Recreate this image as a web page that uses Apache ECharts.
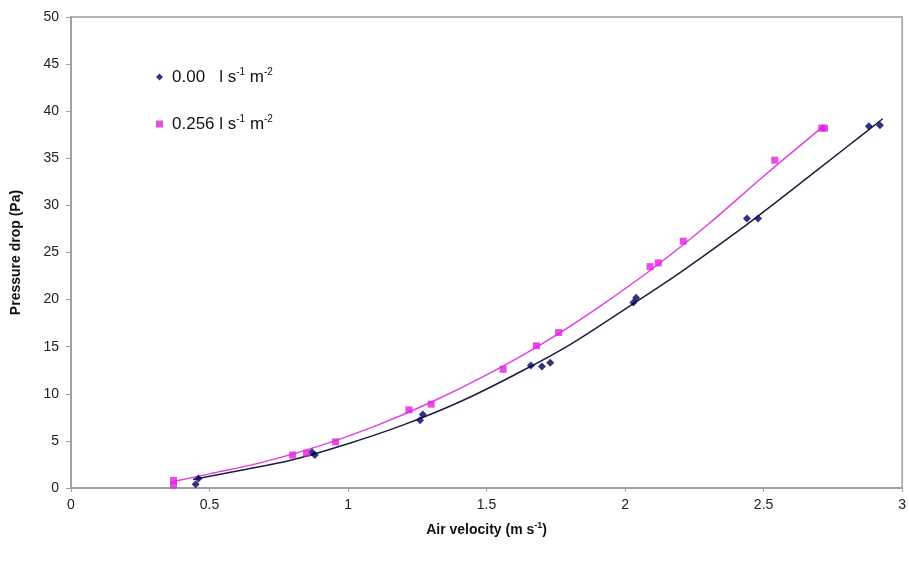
<!DOCTYPE html>
<html>
<head>
<meta charset="utf-8">
<script src="https://cdn.jsdelivr.net/npm/echarts@6/dist/echarts.min.js"></script>
<style>
  html, body { margin: 0; padding: 0; background: #fff; }
  #chart { width: 909px; height: 562px; }
</style>
</head>
<body>
<div id="chart"></div>
<script>
// measured points, 0.00 l s-1 m-2
var pts0 = [
    [0.45, 0.4], [0.46, 1.0], [0.87, 3.8], [0.88, 3.5],
    [1.26, 7.2], [1.27, 7.8], [1.66, 13.0], [1.70, 12.9], [1.73, 13.3],
    [2.03, 19.7], [2.04, 20.2], [2.44, 28.6], [2.48, 28.6],
    [2.88, 38.4], [2.92, 38.5]
];
// measured points, 0.256 l s-1 m-2
var pts256 = [
    [0.37, 0.8], [0.37, 0.3], [0.80, 3.5], [0.85, 3.7], [0.955, 4.9],
    [1.22, 8.3], [1.30, 8.9], [1.56, 12.6], [1.68, 15.1], [1.76, 16.5],
    [2.09, 23.5], [2.12, 23.9], [2.21, 26.2], [2.54, 34.8],
    [2.71, 38.2], [2.72, 38.2]
];
// trend lines
var trend0 = [
    [0.44, 0.9], [0.6, 1.8], [0.8, 3.0], [1.0, 4.7], [1.2, 6.7], [1.4, 9.1],
    [1.6, 12.0], [1.8, 15.2], [2.0, 19.0], [2.2, 22.9], [2.4, 27.1],
    [2.6, 31.6], [2.8, 36.2], [2.93, 39.2]
];
var trend256 = [
    [0.37, 0.7], [0.5, 1.5], [0.7, 2.8], [0.9, 4.5], [1.1, 6.6], [1.3, 9.1],
    [1.5, 12.0], [1.7, 15.3], [1.9, 19.1], [2.1, 23.3], [2.3, 28.0],
    [2.5, 33.1], [2.72, 38.5]
];
var xTicks = [0, 0.5, 1, 1.5, 2, 2.5, 3];

var chart = echarts.init(document.getElementById('chart'));

var supStyle = { fontSize: 10, verticalAlign: 'top', lineHeight: 20, color: '#111', fontFamily: 'Liberation Sans' };
var legendText = {
    s0: '0.00   l s{sup|-1} m{sup|-2}',
    s256: '0.256 l s{sup|-1} m{sup|-2}'
};

var option = {
    backgroundColor: '#fff',
    animation: false,
    grid: {
        left: 71, right: 6, top: 17, bottom: 74,
        show: true, borderColor: '#b4b4b4', borderWidth: 2
    },
    legend: {
        orient: 'vertical',
        left: 151, top: 62,
        itemGap: 27,
        itemWidth: 7, itemHeight: 7,
        data: [
            { name: 's0', icon: 'diamond', itemStyle: { color: '#000060' } },
            { name: 's256', icon: 'rect', itemStyle: { color: '#e020e0' } }
        ],
        formatter: function (n) { return legendText[n]; },
        textStyle: {
            fontSize: 17, color: '#111', fontFamily: 'Liberation Sans',
            lineHeight: 20, padding: [0, 0, 0, 4],
            rich: { sup: supStyle }
        }
    },
    xAxis: {
        type: 'value', min: 0, max: 3, interval: 0.5,
        name: 'Air velocity (m s{sup|-1})',
        nameLocation: 'middle', nameGap: 33,
        nameTextStyle: {
            fontSize: 14, fontWeight: 'bold', color: '#111', fontFamily: 'Liberation Sans',
            lineHeight: 18,
            rich: { sup: { fontSize: 9, verticalAlign: 'top', lineHeight: 18, fontWeight: 'bold', color: '#111' } }
        },
        axisLine: { lineStyle: { color: '#a0a0a0', width: 2 } },
        axisTick: { show: true, length: 4, lineStyle: { color: '#a0a0a0' } },
        axisLabel: {
            fontSize: 14, color: '#222', fontFamily: 'Liberation Sans', margin: 10,
            formatter: function (v) { return xTicks.indexOf(v) >= 0 ? String(v) : ''; }
        },
        splitLine: { show: false }
    },
    yAxis: {
        type: 'value', min: 0, max: 50, interval: 5,
        name: 'Pressure drop (Pa)',
        nameLocation: 'middle', nameGap: 48, nameRotate: 90,
        nameTextStyle: { fontSize: 14, fontWeight: 'bold', color: '#111', fontFamily: 'Liberation Sans' },
        axisLine: { show: true, lineStyle: { color: '#a0a0a0', width: 2 } },
        axisTick: { show: true, length: 5, lineStyle: { color: '#a0a0a0' } },
        axisLabel: { fontSize: 14, color: '#222', fontFamily: 'Liberation Sans', margin: 12 },
        splitLine: { show: false }
    },
    series: [
        {
            name: 't0', type: 'line', data: trend0, smooth: 0.4, showSymbol: false,
            lineStyle: { color: '#1c1c3c', width: 1.5 }, z: 1, silent: true
        },
        {
            name: 't256', type: 'line', data: trend256, smooth: 0.4, showSymbol: false,
            lineStyle: { color: '#e040e0', width: 1.5 }, z: 1, silent: true
        },
        {
            name: 's0', type: 'scatter', data: pts0, symbol: 'diamond', symbolSize: 8,
            itemStyle: { color: '#000060' }, z: 3
        },
        {
            name: 's256', type: 'scatter', data: pts256, symbol: 'rect', symbolSize: 7,
            itemStyle: { color: '#e020e0' }, z: 3
        }
    ]
};
chart.setOption(option);
</script>
</body>
</html>
